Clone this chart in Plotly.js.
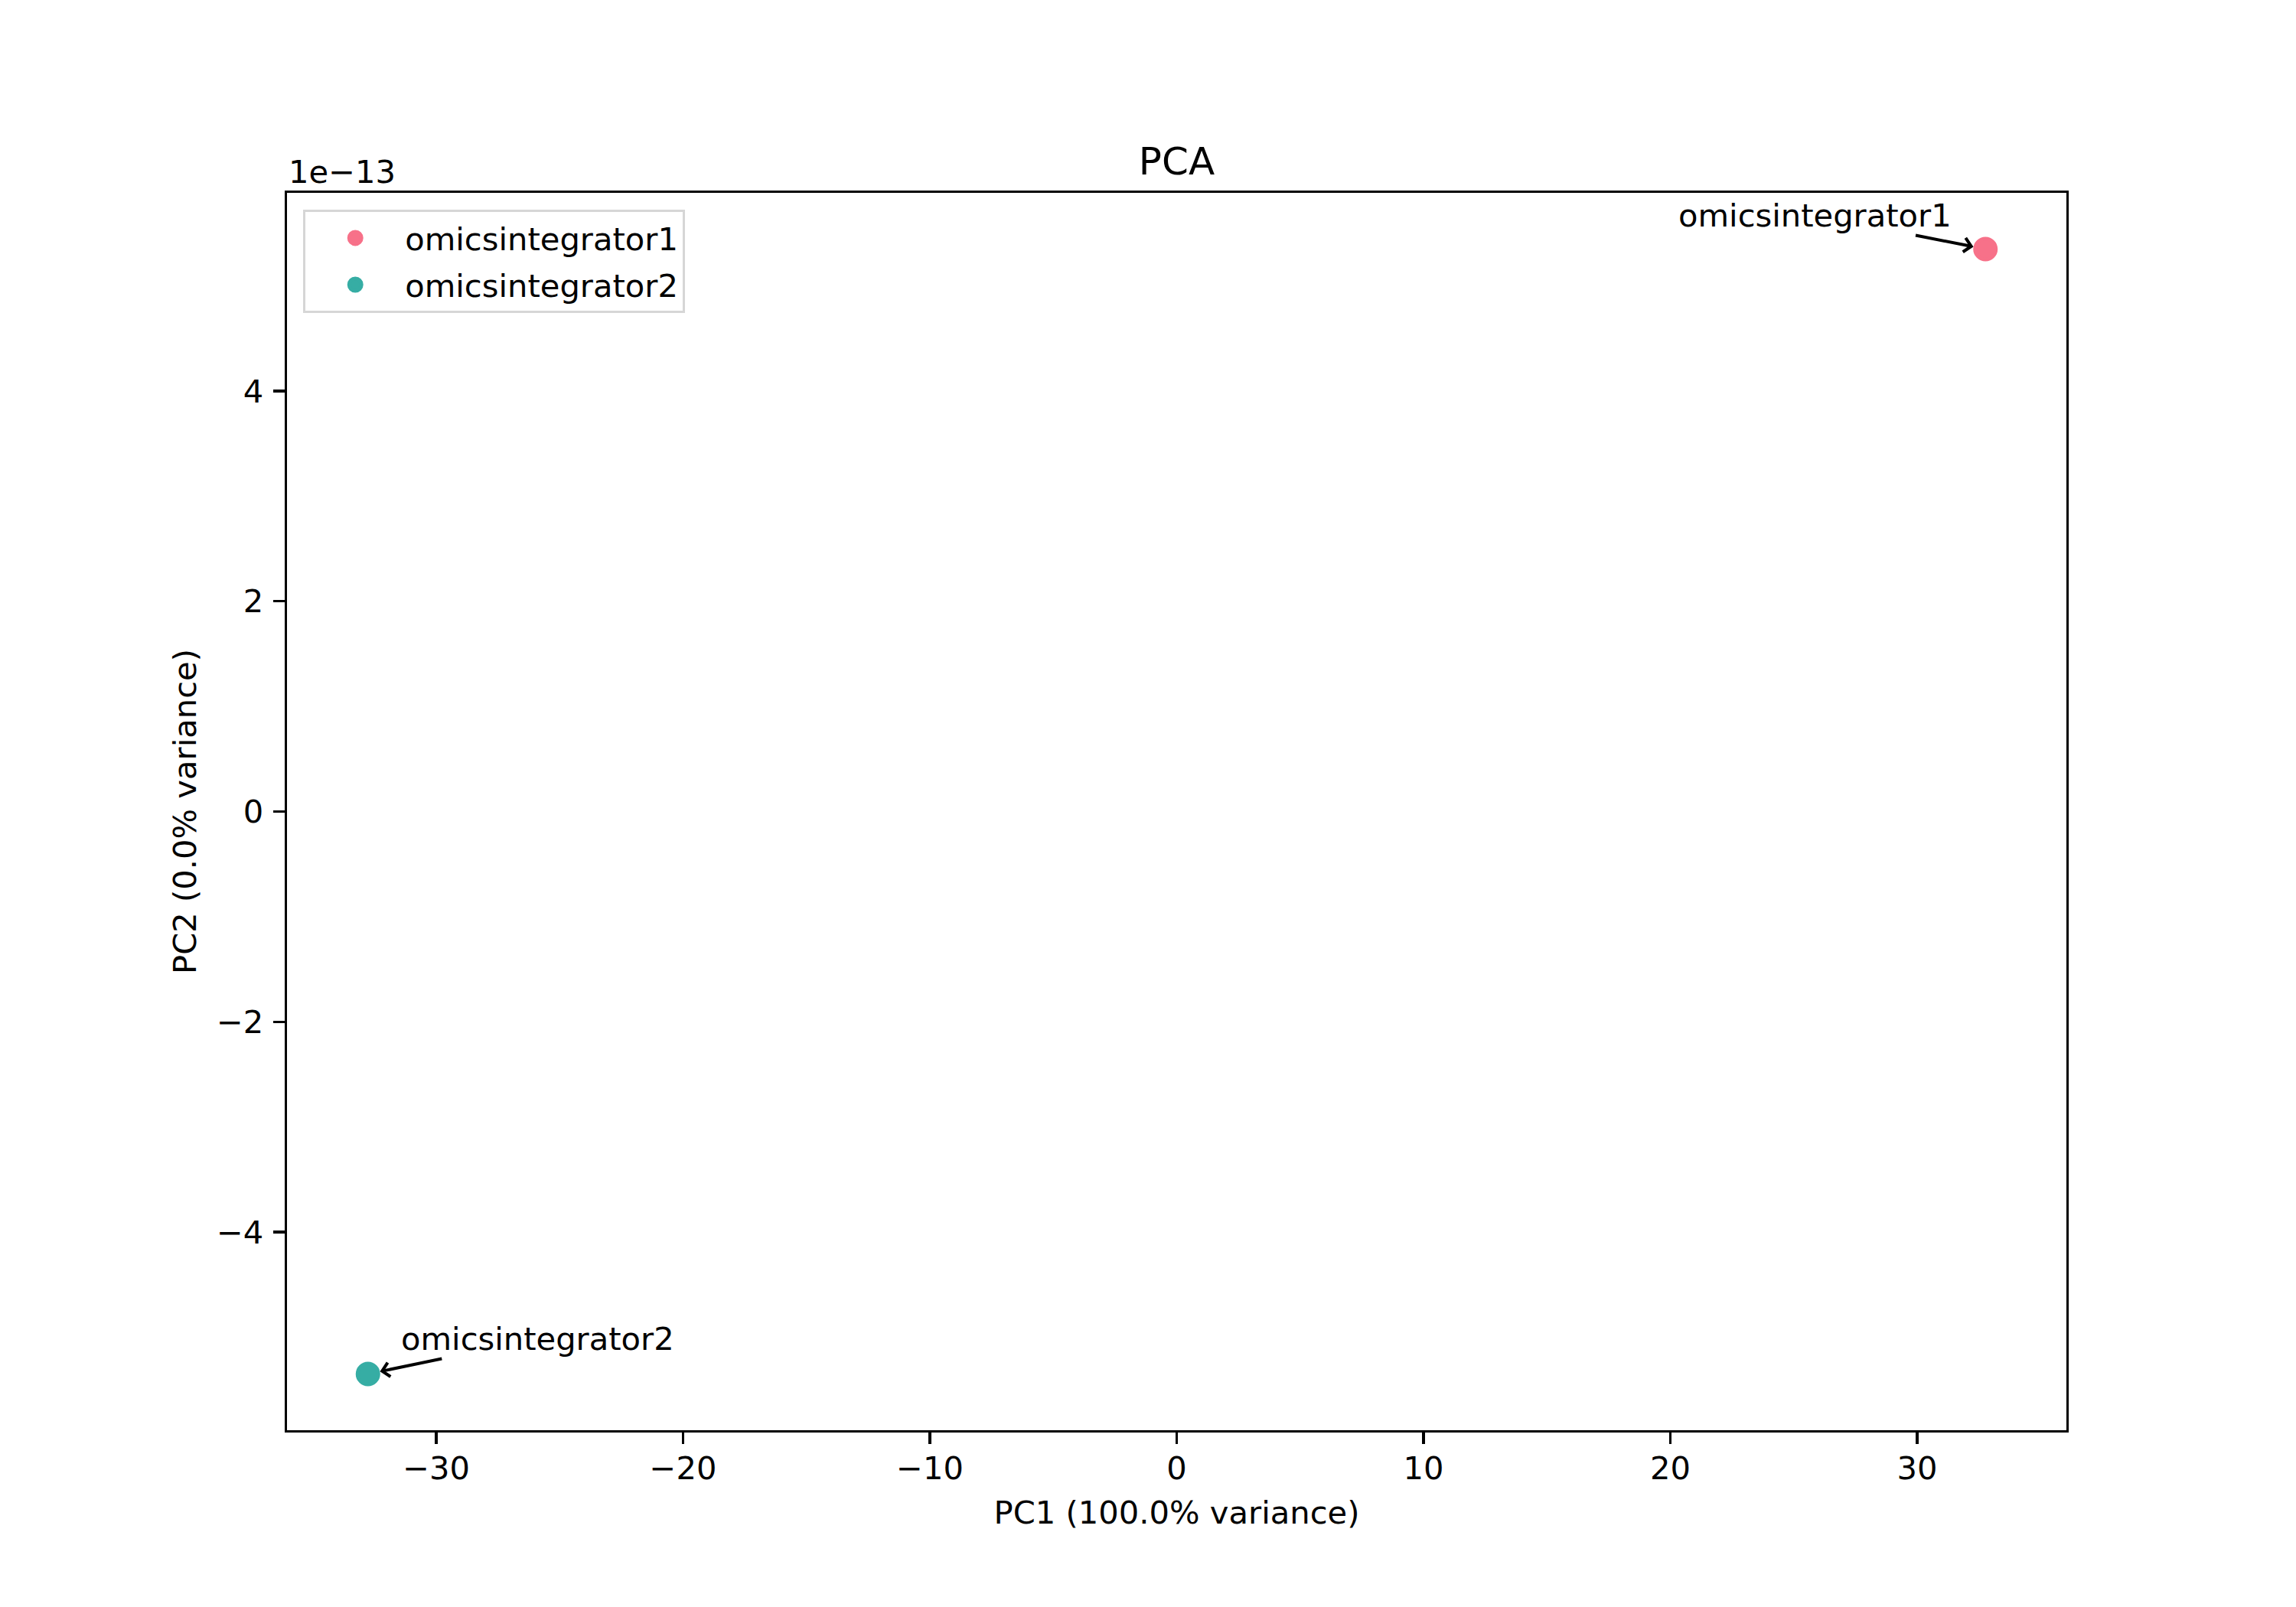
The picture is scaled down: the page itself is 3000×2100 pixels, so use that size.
<!DOCTYPE html>
<html><head><meta charset="utf-8">
<script src="https://cdn.plot.ly/plotly-3.0.1.min.js"></script>
<style>html,body{margin:0;padding:0;background:#fff;}</style>
</head><body>
<div id="chart" style="width:3000px;height:2100px;"></div>
<script>
// ---- data ----
const samples = ['omicsintegrator1', 'omicsintegrator2'];
const pc1 = [32.77, -32.77];
const pc2 = [5.35e-13, -5.35e-13];
const sampleColors = ['#f77189', '#36ada4'];
const xTickVals = [-30, -20, -10, 0, 10, 20, 30];
const xTickText = ['\u221230', '\u221220', '\u221210', '0', '10', '20', '30'];
const yTickVals = [-4e-13, -2e-13, 0, 2e-13, 4e-13];
const yTickText = ['\u22124', '\u22122', '0', '2', '4'];
const yOffsetText = '1e\u221213';
const chartTitle = 'PCA';
const xTitle = 'PC1 (100.0% variance)';
const yTitle = 'PC2 (0.0% variance)';

const FONT = 'DejaVu Sans';
const FS = 41.67;

const traces = samples.map((s, i) => ({
  type: 'scatter', mode: 'markers', name: s, legendgroup: 'g' + i,
  x: [pc1[i]], y: [pc2[i]],
  marker: {color: sampleColors[i], size: 27, line: {width: 5, color: sampleColors[i]}},
  hoverinfo: 'skip'
}));

// label placement (pixel offsets of label centre from the point)
const labelPlacement = [[-223, -44], [222, -46]];
const annotations = samples.map((s, i) => ({
  x: pc1[i], y: pc2[i], xref: 'x', yref: 'y',
  text: s, showarrow: true,
  ax: labelPlacement[i][0], ay: labelPlacement[i][1],
  arrowhead: 4, arrowsize: 0.9, arrowwidth: 4, arrowcolor: '#000',
  standoff: 16,
  font: {family: FONT, size: FS, color: '#000'}
}));
annotations.push({
  xref: 'paper', yref: 'paper', x: 0, y: 1.0173,
  xanchor: 'left', yanchor: 'middle', showarrow: false,
  text: yOffsetText, font: {family: FONT, size: FS, color: '#000'}
});

const axisCommon = {
  showgrid: false, zeroline: false, showline: true, mirror: true,
  linecolor: '#000', linewidth: 3.3,
  ticks: 'outside', ticklen: 15, tickwidth: 3.3, tickcolor: '#000',
  tickfont: {family: FONT, size: FS, color: '#000'},
  tickmode: 'array', automargin: false, fixedrange: true
};

const layout = {
  width: 3000, height: 2100,
  margin: {l: 375, r: 300, t: 252, b: 231, pad: 0},
  paper_bgcolor: '#fff', plot_bgcolor: '#fff',
  font: {family: FONT, size: FS, color: '#000'},
  title: {text: chartTitle, font: {family: FONT, size: 50, color: '#000'},
          xref: 'paper', x: 0.5, xanchor: 'center',
          yref: 'container', y: 0.9, yanchor: 'middle'},
  xaxis: Object.assign({}, axisCommon, {
    range: [-36.05, 36.05], tickvals: xTickVals, ticktext: xTickText,
    ticklabelstandoff: -4,
    title: {text: xTitle, font: {family: FONT, size: FS, color: '#000'}, standoff: 20}
  }),
  yaxis: Object.assign({}, axisCommon, {
    range: [-5.885e-13, 5.885e-13], tickvals: yTickVals, ticktext: yTickText,
    ticklabelstandoff: 4,
    title: {text: yTitle, font: {family: FONT, size: FS, color: '#000'}, standoff: 14}
  }),
  showlegend: true,
  legend: {
    x: 0.009, y: 0.9864, xanchor: 'left', yanchor: 'top',
    bgcolor: 'rgba(255,255,255,0.8)', bordercolor: '#d6d6d6', borderwidth: 3.3,
    font: {family: FONT, size: FS, color: '#000'},
    itemwidth: 120, itemsizing: 'trace', tracegroupgap: 4
  },
  annotations: annotations
};

Plotly.newPlot('chart', traces, layout, {displayModeBar: false, staticPlot: true});
</script>
</body></html>
